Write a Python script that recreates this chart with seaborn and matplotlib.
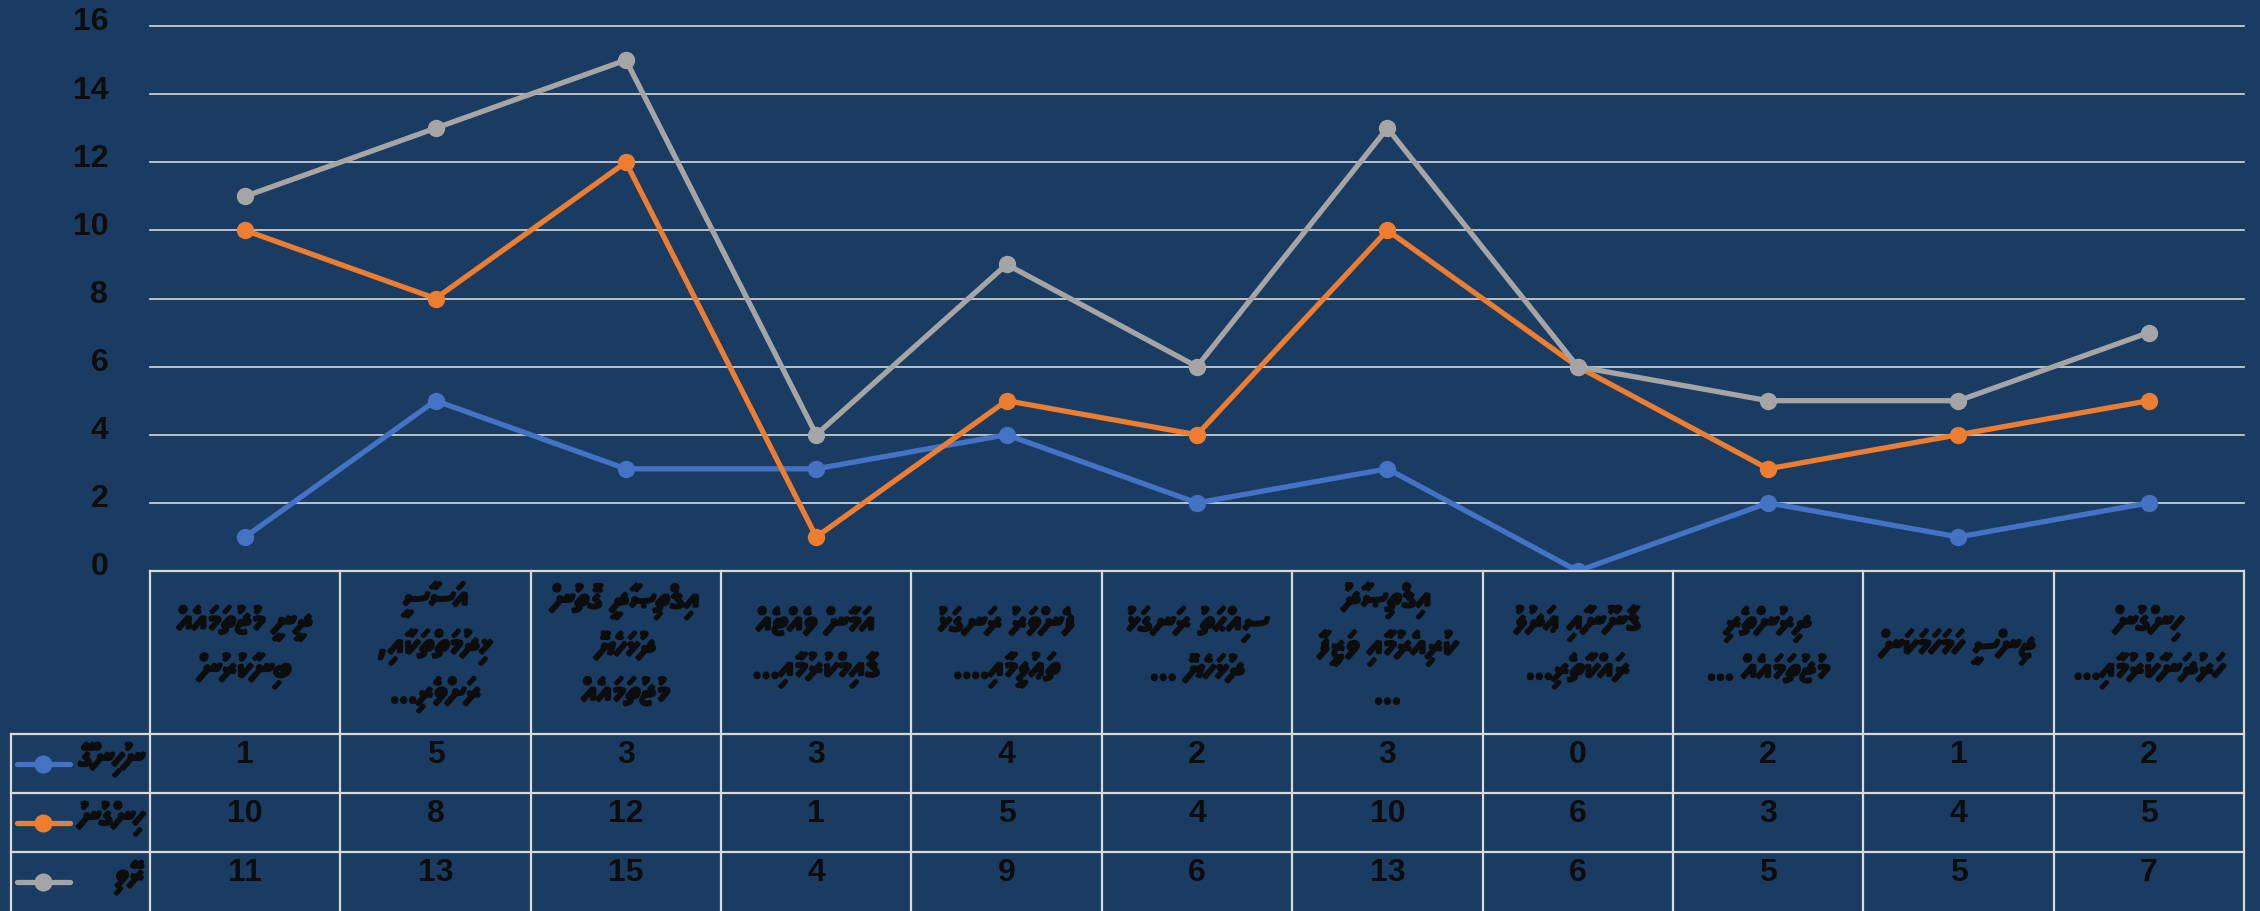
import numpy as np
import pandas as pd
import matplotlib
matplotlib.use("Agg")
import matplotlib.pyplot as plt
import matplotlib.patheffects as pe
from matplotlib.transforms import ScaledTranslation
import seaborn as sns

# category labels (Dhivehi, logical order, line breaks as wrapped in the chart)
categories = [
    "ދީނީ މުޖުތަމައެއް\nބިނާކުރުން",
    "އަސާސީ\nޚިދުމަތްތަކާއި،\nރަށްވެރި...",
    "އިޤްތިޞާދީ ގޮތުން\nދުޅަހެޔޮ\nމުޖުތަމައެއް",
    "އަމާން ވެއްޓެއް\nޤާއިމްކުރުމާއި...",
    "ފެންވަރު ރަނގަޅު\nތަޢުލީމާއި....",
    "ސިއްޙަތު ރަނގަޅު\nދުޅަހެޔޮ ...",
    "އިޤްތިޞާދު\nކުރިއެރުމާއި ވަޒީފާ\n...",
    "ޤާނޫނާއި ޢަދުލު\nރައްކާތެރި...",
    "ދިރުންތެރި\nމުޖުތަމައެއް ...",
    "ޖިންސީ ހަމަހަމަކަން",
    "ހިންގުން\nހަރުދަނާކުރުމާއި...",
]
series_names = ["ނުހިންގޭ", "ހިންގުނު", "ރޭވި"]
not_done = [1, 5, 3, 3, 4, 2, 3, 0, 2, 1, 2]
done = [10, 8, 12, 1, 5, 4, 10, 6, 3, 4, 5]
planned = [11, 13, 15, 4, 9, 6, 13, 6, 5, 5, 7]
y_ticks = [0, 2, 4, 6, 8, 10, 12, 14, 16]

colors = ["#4472c4", "#ed7d31", "#a5a5a5"]
bg = "#1a3c62"
txt = "#0d0d0d"
grid_c = "#d9d9d9"
thaana = ["Noto Sans Thaana", "DejaVu Sans"]
bold = [pe.withStroke(linewidth=2.4, foreground=txt)]


def rtl(s):
    # matplotlib lays text out left to right, so flip each line
    return "\n".join(line[::-1] for line in s.split("\n"))


n = len(categories)
values = [not_done, done, planned]
df = pd.DataFrame({
    "idx": np.tile(np.arange(n), 3),
    "value": np.concatenate(values),
    "series": np.repeat(series_names, n),
})

W, H = 2260, 912
fig = plt.figure(figsize=(W / 100, H / 100), dpi=100, facecolor=bg)

# chart area
ax = fig.add_axes([150 / W, 1 - 572 / H, (2244 - 150) / W, (572 - 27) / H])
ax.set_facecolor("none")
sns.lineplot(data=df, x="idx", y="value", hue="series",
             palette=dict(zip(series_names, colors)), marker="o",
             markersize=12.5, markeredgewidth=0, linewidth=3.8,
             legend=False, sort=False, ax=ax)
ax.set_xlim(-0.5, n - 0.5)
ax.set_ylim(0, 16)
ax.set_xticks([])
ax.set_yticks(y_ticks)
ax.set_yticklabels([str(t) for t in y_ticks], fontsize=23,
                   fontweight="bold", family="Liberation Sans", color=txt)
ax.tick_params(axis="y", length=0, pad=30)
ax.yaxis.grid(True, color=grid_c, linewidth=1.2)
for gl in ax.get_ygridlines():
    gl.set_clip_on(False)
ax.set_axisbelow(True)
ax.set_xlabel("")
ax.set_ylabel("")
for s in ax.spines.values():
    s.set_visible(False)
shift = ScaledTranslation(0, 0.08, fig.dpi_scale_trans)
for lab in ax.get_yticklabels():
    lab.set_transform(lab.get_transform() + shift)

# data table under the chart
col_w = (2244 - 150) / n
head_h, row_h = 163, 59


def px2x(px):
    return (px - 150) / col_w - 0.5


tab = fig.add_axes([11 / W, 0, (2244 - 11) / W, (912 - 572) / H])
tab.set_xlim(px2x(11), n - 0.5)
tab.set_ylim(head_h + 3 * row_h, 0)
tab.axis("off")

lkw = dict(color=grid_c, linewidth=1.6, clip_on=False)
tab.plot([-0.5, n - 0.5], [0, 0], **lkw)
for r in range(3):
    tab.plot([px2x(11), n - 0.5], [head_h + r * row_h] * 2, **lkw)
for k in range(n + 1):
    tab.plot([k - 0.5] * 2, [0, head_h + 3 * row_h], **lkw)
tab.plot([px2x(11)] * 2, [head_h, head_h + 3 * row_h], **lkw)

for i, cat in enumerate(categories):
    tab.text(i, 76, rtl(cat), ha="center", va="center",
             multialignment="center", fontsize=24, family=thaana,
             color=txt, linespacing=1.5, path_effects=bold)

for r, (name, vals, c) in enumerate(zip(series_names, values, colors)):
    yc = head_h + r * row_h + row_h / 2
    tab.plot([px2x(17), px2x(70)], [yc, yc], color=c, linewidth=3.8,
             solid_capstyle="round", clip_on=False)
    tab.plot([px2x(43)], [yc], marker="o", markersize=13, color=c,
             markeredgewidth=0, clip_on=False)
    tab.text(px2x(144), yc - 4, rtl(name), ha="right", va="center",
             fontsize=23, family=thaana, color=txt, path_effects=bold)
    for i, v in enumerate(vals):
        tab.text(i, yc - 9, str(v), ha="center", va="center", fontsize=23,
                 fontweight="bold", family="Liberation Sans", color=txt)

fig.savefig("out.png", dpi=100, facecolor=bg)
